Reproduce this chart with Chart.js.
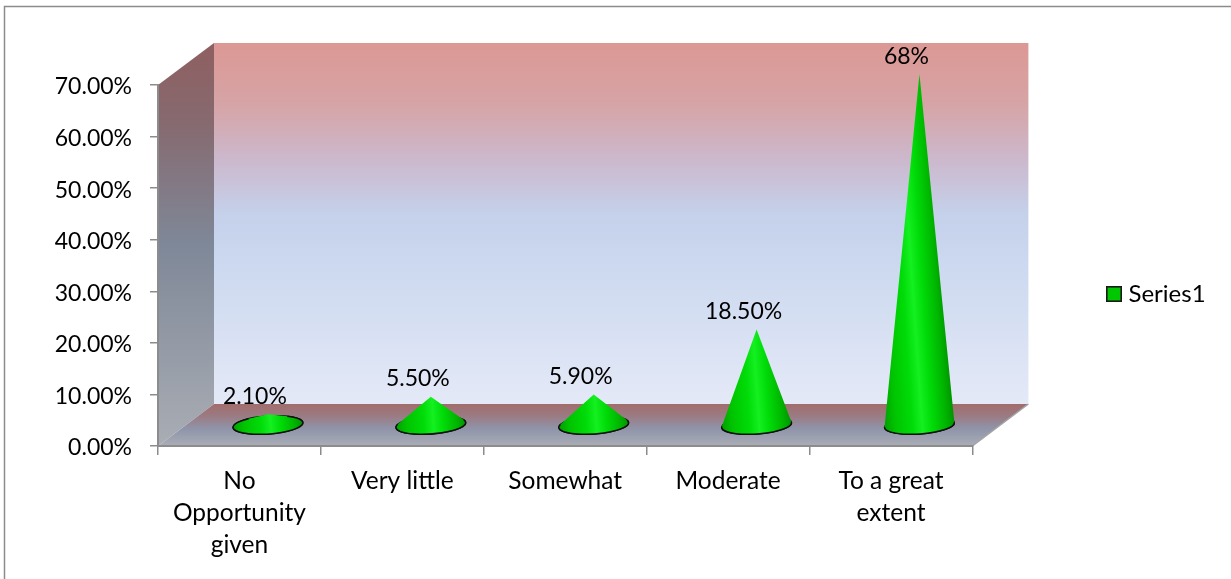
<!DOCTYPE html>
<html><head><meta charset="utf-8">
<style>html,body{margin:0;padding:0;background:#fff}#w{position:relative;width:1231px;height:579px}canvas{display:block}</style>
<script src="https://cdn.jsdelivr.net/npm/chart.js@4/dist/chart.umd.min.js"></script>
</head><body><div id="w"><canvas id="c" width="1231" height="579"></canvas></div>
<script>
const categories = [['No','Opportunity','given'],'Very little','Somewhat','Moderate',['To a great','extent']];
const seriesName = 'Series1';
const values = [2.1,5.5,5.9,18.5,68];
const valueLabels = ['2.10%','5.50%','5.90%','18.50%','68%'];
const FONT = 'Lato';
const FS = 23, FS_CAT = 24.5, FS_LEG = 24;
const DEPTH_X = 56, DEPTH_Y = 42, FLOOR_LIFT = 21, CONE_SHIFT = 28.5, RX = 35, RY = 9, TILT = -0.07;

const swatch = document.createElement('canvas');
swatch.width = 16; swatch.height = 16;
(function(){const g=swatch.getContext('2d');g.fillStyle='#00c800';g.fillRect(0,0,16,16);g.strokeStyle='#1a1a1a';g.lineWidth=1.6;g.strokeRect(.8,.8,14.4,14.4);})();

const scene = {
  id:'scene',
  afterLayout(chart){
    const l = chart.legend;
    const dy = 294 - (l.top + l.bottom)/2;
    l.left = 1101.5; l.right = l.left + l.width;
    l.top += dy; l.bottom += dy;
  },
  beforeDraw(chart){
    const {ctx,chartArea:a} = chart;
    const L=a.left,R=a.right,T=a.top,B=a.bottom,dx=DEPTH_X,dy=DEPTH_Y;
    ctx.save();
    ctx.strokeStyle='#8c8c8c'; ctx.lineWidth=1.5;
    ctx.beginPath(); ctx.moveTo(4.5,579); ctx.lineTo(4.5,6.5); ctx.lineTo(1231,6.5); ctx.stroke();
    let g=ctx.createLinearGradient(0,T-dy,0,B-dy);
    g.addColorStop(0,'#dc9894');g.addColorStop(.17,'#d6a4a6');g.addColorStop(.32,'#ccb8cc');
    g.addColorStop(.47,'#c5d0ea');g.addColorStop(.6,'#cbd8ef');g.addColorStop(1,'#e4e9f7');
    ctx.fillStyle=g; ctx.fillRect(L+dx,T-dy,R-L,B-T);
    g=ctx.createLinearGradient(0,T-dy,0,B);
    g.addColorStop(0,'#8f5f60');g.addColorStop(.2,'#866a70');g.addColorStop(.5,'#7f8898');g.addColorStop(1,'#a9adb4');
    ctx.fillStyle=g; ctx.beginPath(); ctx.moveTo(L,T); ctx.lineTo(L+dx,T-dy); ctx.lineTo(L+dx,B-dy); ctx.lineTo(L,B); ctx.closePath(); ctx.fill();
    g=ctx.createLinearGradient(0,B-dy,0,B);
    g.addColorStop(0,'#a26c6c');g.addColorStop(.3,'#9a7c84');g.addColorStop(.6,'#8f95aa');g.addColorStop(1,'#abadb6');
    ctx.fillStyle=g; ctx.beginPath(); ctx.moveTo(L,B); ctx.lineTo(L+dx,B-dy); ctx.lineTo(R+dx,B-dy); ctx.lineTo(R,B); ctx.closePath(); ctx.fill();
    ctx.strokeStyle='#a4a4a4'; ctx.lineWidth=1.5;
    ctx.beginPath(); ctx.moveTo(R,B); ctx.lineTo(R+dx,B-dy); ctx.stroke();
    ctx.restore();
  },
  afterDatasetsDraw(chart){
    const {ctx,scales:{x,y}} = chart;
    const y0 = y.getPixelForValue(0);
    values.forEach((v,i)=>{
      const cx = x.getPixelForValue(i)+CONE_SHIFT, cy = y0-FLOOR_LIFT;
      const h = y0-y.getPixelForValue(v);
      ctx.save();
      ctx.translate(cx,cy); ctx.rotate(TILT);
      ctx.beginPath(); ctx.ellipse(0,0,RX,RY,0,0,Math.PI*2);
      ctx.fillStyle='#008e00'; ctx.fill();
      ctx.strokeStyle='#101010'; ctx.lineWidth=1.5; ctx.stroke();
      const ax=-h*Math.sin(TILT), ay=-h*Math.cos(TILT);
      const ux=ax/RX, uy=ay/RY, d=Math.hypot(ux,uy);
      if(d>1){
        const phi=Math.atan2(uy,ux), al=Math.acos(1/d);
        const g=ctx.createLinearGradient(-RX,0,RX,0);
        g.addColorStop(0,'#00a000');g.addColorStop(.16,'#00c400');g.addColorStop(.4,'#00dc08');
        g.addColorStop(.54,'#14f020');g.addColorStop(.68,'#00dc08');g.addColorStop(.88,'#00b400');g.addColorStop(1,'#009400');
        ctx.beginPath(); ctx.moveTo(ax,ay);
        ctx.ellipse(0,0,RX,RY,0,phi+al,phi-al+Math.PI*2);
        ctx.closePath(); ctx.fillStyle=g; ctx.fill();
        ctx.beginPath(); ctx.ellipse(0,0,RX,RY,0,phi+al,phi-al+Math.PI*2);
        ctx.strokeStyle='#101010'; ctx.lineWidth=1.5; ctx.stroke();
      }
      ctx.restore();
      ctx.save();
      ctx.font=FS+'px '+FONT; ctx.fillStyle='#000'; ctx.textAlign='center'; ctx.textBaseline='middle';
      ctx.fillText(valueLabels[i],cx-13,cy-h-18);
      ctx.restore();
    });
  }
};

new Chart(document.getElementById('c'),{
  type:'bar',
  data:{labels:categories,datasets:[{label:seriesName,data:values,backgroundColor:'rgba(0,0,0,0)',borderWidth:0}]},
  plugins:[scene],
  options:{
    responsive:false,animation:false,
    layout:{padding:{top:85,left:0,right:144.5,bottom:0}},
    plugins:{
      tooltip:{enabled:false},
      legend:{position:'right',labels:{usePointStyle:true,pointStyle:swatch,pointStyleWidth:5,boxHeight:16,color:'#000',font:{family:FONT,size:FS_LEG}}}
    },
    scales:{
      x:{
        grid:{drawOnChartArea:false,drawTicks:true,tickLength:9,color:'#8c8c8c',lineWidth:1.5},
        border:{color:'#8c8c8c',width:2},
        ticks:{padding:10,color:'#000',maxRotation:0,autoSkip:false,font:{family:FONT,size:FS_CAT,lineHeight:1.306}},
        afterFit(s){s.height=133;}
      },
      y:{
        min:0,max:70,
        grid:{drawOnChartArea:false,drawTicks:true,tickLength:8,color:'#8c8c8c',lineWidth:1.5},
        border:{color:'#8c8c8c',width:2},
        ticks:{stepSize:10,padding:18,labelOffset:2,color:'#000',font:{family:FONT,size:FS},callback:v=>v.toFixed(2)+'%'},
        afterFit(s){s.width=158;}
      }
    }
  }
});
</script></body></html>
